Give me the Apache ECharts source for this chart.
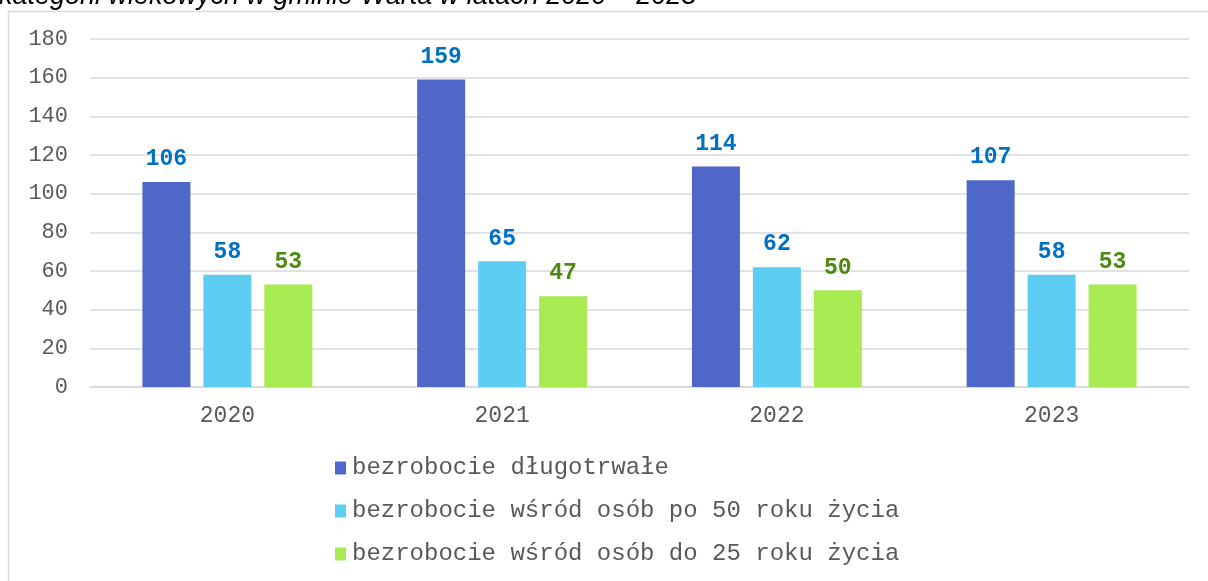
<!DOCTYPE html>
<html>
<head>
<meta charset="utf-8">
<script src="https://cdn.jsdelivr.net/npm/echarts@6/dist/echarts.min.js"></script>
<style>
  html, body { margin: 0; padding: 0; background: #fff; }
  #chart { width: 1208px; height: 581px; }
</style>
</head>
<body>
<div id="chart"></div>
<script>
// dane z wykresu
const years = ['2020', '2021', '2022', '2023']
const seriesNames = [
    'bezrobocie długotrwałe',
    'bezrobocie wśród osób po 50 roku życia',
    'bezrobocie wśród osób do 25 roku życia'
]
const longTerm = [106, 159, 114, 107]
const over50 = [58, 65, 62, 58]
const under25 = [53, 47, 50, 53]
const titleText = 'kategorii wiekowych w gminie Warta w latach 2020 – 2023'

const mono = '"Liberation Mono", "Courier New", monospace'
const barColors = ['#4F67C9', '#5ECDF3', '#A8EA52']
const labelColors = ['#0070C0', '#0070C0', '#4E8A12']

const chart = echarts.init(document.getElementById('chart'))

function makeSeries(name, data, i) {
    return {
        name: name,
        type: 'bar',
        data: data,
        barWidth: 48,
        barGap: '27%',
        itemStyle: { color: barColors[i] },
        label: {
            show: true,
            position: 'top',
            distance: 11,
            fontFamily: mono,
            fontSize: 23,
            fontWeight: 'bold',
            color: labelColors[i]
        }
    }
}

const option = {
    animation: false,
    backgroundColor: '#fff',
    graphic: [
        {
            type: 'rect',
            shape: { x: 8.5, y: 11.5, width: 1250, height: 650 },
            style: { fill: 'none', stroke: '#D9D9D9', lineWidth: 1.5 },
            z: -1
        },
        {
            type: 'text',
            x: -1,
            y: 10,
            style: {
                text: titleText,
                font: 'italic 27px "Liberation Sans", Arial, sans-serif',
                fill: '#000',
                verticalAlign: 'bottom'
            }
        }
    ],
    grid: { left: 90, right: 19, top: 39, bottom: 194 },
    legend: {
        orient: 'vertical',
        left: 330,
        top: 451,
        itemWidth: 11,
        itemHeight: 13,
        itemGap: 19,
        icon: 'rect',
        textStyle: { fontFamily: mono, fontSize: 24, color: '#595959', padding: [0, 0, 0, 1] },
        data: seriesNames
    },
    xAxis: {
        type: 'category',
        data: years,
        axisLine: { lineStyle: { color: '#D9D9D9', width: 1.5 } },
        axisTick: { show: false },
        axisLabel: { fontFamily: mono, fontSize: 23, color: '#595959', margin: 17 }
    },
    yAxis: {
        type: 'value',
        min: 0,
        max: 180,
        interval: 20,
        axisLine: { show: false },
        axisTick: { show: false },
        splitLine: { lineStyle: { color: '#D9D9D9', width: 1.5 } },
        axisLabel: { fontFamily: mono, fontSize: 22, color: '#595959', margin: 22 }
    },
    series: [
        makeSeries(seriesNames[0], longTerm, 0),
        makeSeries(seriesNames[1], over50, 1),
        makeSeries(seriesNames[2], under25, 2)
    ]
}
chart.setOption(option)
</script>
</body>
</html>
